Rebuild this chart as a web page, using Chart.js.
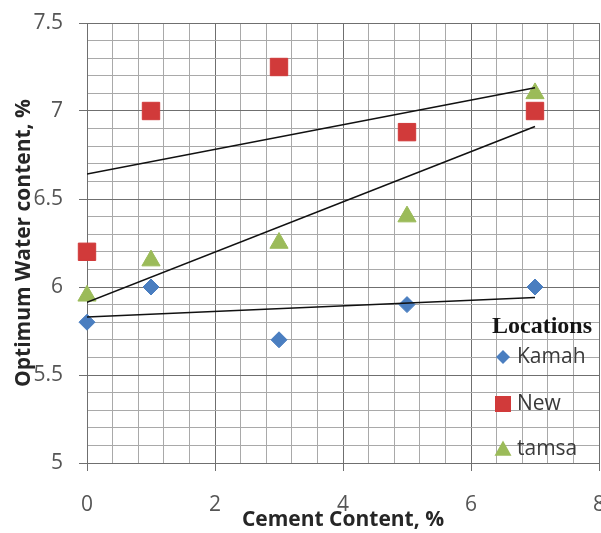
<!DOCTYPE html>
<html>
<head>
<meta charset="utf-8">
<title>Optimum water content vs cement content</title>
<script src="https://cdn.jsdelivr.net/npm/chart.js@4/dist/chart.umd.min.js"></script>
<style>
  html, body { margin: 0; padding: 0; background: #ffffff; }
  #wrap { width: 601px; height: 533px; }
</style>
</head>
<body>
<div id="wrap"><canvas id="chart" width="601" height="533"></canvas></div>
<script>
// Cement content (%) at which each soil was tested
const cementContent = [0, 1, 3, 5, 7];

// Optimum water content (%) per location
const kamah   = [5.8, 6.0, 5.7, 5.9, 6.0];
const newSite = [6.2, 7.0, 7.25, 6.88, 7.0];
const tamsa   = [5.95, 6.15, 6.25, 6.4, 7.1];

const seriesNames = ['Kamah', 'New', 'tamsa'];

// Labelled (major) tick values
const xTickLabels = [0, 2, 4, 6, 8];
const yTickLabels = [5, 5.5, 6, 6.5, 7, 7.5];

const COLORS = { Kamah: '#4A7EC0', New: '#D13A3A', tamsa: '#9BBB59' };
const MAJOR_GRID = '#6f6f6f';
const MINOR_GRID = '#a9a9a9';
const TICK_FONT = { family: '"Open Sans", "Noto Sans", sans-serif', size: 21 };
const TITLE_FONT = { family: '"Open Sans", "Noto Sans", sans-serif', size: 21, weight: 'bold', lineHeight: 1.2 };

const isMajor = (v, list) => list.some(t => Math.abs(t - v) < 1e-6);

// Least-squares straight line through one series
function linearFit(xs, ys) {
  const n = xs.length;
  const mx = xs.reduce((s, v) => s + v, 0) / n;
  const my = ys.reduce((s, v) => s + v, 0) / n;
  let sxy = 0, sxx = 0;
  for (let i = 0; i < n; i++) {
    sxy += (xs[i] - mx) * (ys[i] - my);
    sxx += (xs[i] - mx) * (xs[i] - mx);
  }
  const m = sxy / sxx;
  return { m, b: my - m * mx };
}

function trendPoints(ys) {
  const { m, b } = linearFit(cementContent, ys);
  const x0 = Math.min(...cementContent);
  const x1 = Math.max(...cementContent);
  return [{ x: x0, y: b + m * x0 }, { x: x1, y: b + m * x1 }];
}

const toPoints = ys => cementContent.map((x, i) => ({ x, y: ys[i] }));

function scatterSet(label, ys, style, radius, order) {
  return {
    label,
    data: toPoints(ys),
    pointStyle: style,
    pointRadius: radius,
    pointHoverRadius: radius,
    backgroundColor: COLORS[label],
    borderColor: COLORS[label],
    pointBorderWidth: 1,
    showLine: false,
    clip: false,
    order
  };
}

function trendSet(ys) {
  return {
    label: '',
    data: trendPoints(ys),
    showLine: true,
    borderColor: '#111111',
    borderWidth: 1.6,
    pointRadius: 0,
    pointHoverRadius: 0,
    fill: false,
    order: 0
  };
}

// Legend drawn inside the plot, lower right
const locationsLegend = {
  id: 'locationsLegend',
  afterDraw(chart) {
    const { ctx, chartArea: a } = chart;
    const left = a.right - 107;
    ctx.save();
    ctx.textBaseline = 'middle';
    ctx.textAlign = 'left';
    ctx.fillStyle = '#151515';
    ctx.font = 'bold 24px "Liberation Serif", "DejaVu Serif", serif';
    ctx.fillText('Locations', left, 327);

    const rows = [
      { name: seriesNames[0], y: 357, shape: 'diamond' },
      { name: seriesNames[1], y: 404, shape: 'square' },
      { name: seriesNames[2], y: 449, shape: 'triangle' }
    ];
    const mx = left + 11;
    rows.forEach(r => {
      ctx.fillStyle = COLORS[r.name];
      ctx.beginPath();
      if (r.shape === 'diamond') {
        const s = 7;
        ctx.moveTo(mx, r.y - s); ctx.lineTo(mx + s, r.y); ctx.lineTo(mx, r.y + s); ctx.lineTo(mx - s, r.y);
      } else if (r.shape === 'square') {
        const s = 8;
        ctx.rect(mx - s, r.y - s, 2 * s, 2 * s);
      } else {
        const s = 8.5;
        ctx.moveTo(mx, r.y - s); ctx.lineTo(mx + s, r.y + s * 0.8); ctx.lineTo(mx - s, r.y + s * 0.8);
      }
      ctx.closePath();
      ctx.fill();
      ctx.fillStyle = '#3a3a3a';
      ctx.font = '21px "Open Sans", "Noto Sans", sans-serif';
      ctx.fillText(r.name, left + 25, r.y);
    });
    ctx.restore();
  }
};

new Chart(document.getElementById('chart'), {
  type: 'scatter',
  data: {
    datasets: [
      trendSet(kamah),
      trendSet(newSite),
      trendSet(tamsa),
      scatterSet(seriesNames[0], kamah, 'rectRot', 8, 1),
      scatterSet(seriesNames[1], newSite, 'rect', 12.3, 2),
      scatterSet(seriesNames[2], tamsa, 'triangle', 10.5, 3)
    ]
  },
  options: {
    responsive: false,
    animation: false,
    devicePixelRatio: 1,
    layout: { autoPadding: false, padding: { top: 23, right: 2, left: 0, bottom: 0 } },
    plugins: {
      legend: { display: false },
      tooltip: { enabled: false }
    },
    scales: {
      x: {
        type: 'linear',
        position: 'bottom',
        min: 0,
        max: 8,
        ticks: {
          stepSize: 0.4,
          autoSkip: false,
          maxRotation: 0,
          padding: 21,
          color: '#555555',
          font: TICK_FONT,
          callback: v => isMajor(v, xTickLabels) ? String(Math.round(v)) : ''
        },
        grid: {
          lineWidth: 1,
          tickLength: 8,
          color: c => (c.tick && isMajor(c.tick.value, xTickLabels)) ? MAJOR_GRID : MINOR_GRID,
          tickColor: c => (c.tick && isMajor(c.tick.value, xTickLabels)) ? MAJOR_GRID : 'rgba(0,0,0,0)'
        },
        border: { color: MAJOR_GRID, width: 1 },
        title: {
          display: true,
          text: 'Cement Content, %',
          color: '#262626',
          font: TITLE_FONT,
          padding: { top: 0, bottom: 0 }
        },
        afterFit(s) { s.height = 70; s.paddingLeft = 0; s.paddingRight = 0; }
      },
      y: {
        type: 'linear',
        min: 5,
        max: 7.5,
        ticks: {
          stepSize: 0.1,
          autoSkip: false,
          padding: 16,
          color: '#555555',
          font: TICK_FONT,
          callback: v => isMajor(v, yTickLabels) ? String(v) : ''
        },
        grid: {
          lineWidth: 1,
          tickLength: 8,
          color: c => (c.tick && isMajor(c.tick.value, yTickLabels)) ? MAJOR_GRID : MINOR_GRID,
          tickColor: c => (c.tick && isMajor(c.tick.value, yTickLabels)) ? MAJOR_GRID : 'rgba(0,0,0,0)'
        },
        border: { color: MAJOR_GRID, width: 1 },
        title: {
          display: true,
          text: 'Optimum Water content, %',
          color: '#262626',
          font: TITLE_FONT,
          padding: { top: 11, bottom: 0 }
        },
        afterFit(s) { s.width = 87; s.paddingTop = 0; s.paddingBottom = 0; }
      }
    }
  },
  plugins: [locationsLegend]
});
</script>
</body>
</html>
